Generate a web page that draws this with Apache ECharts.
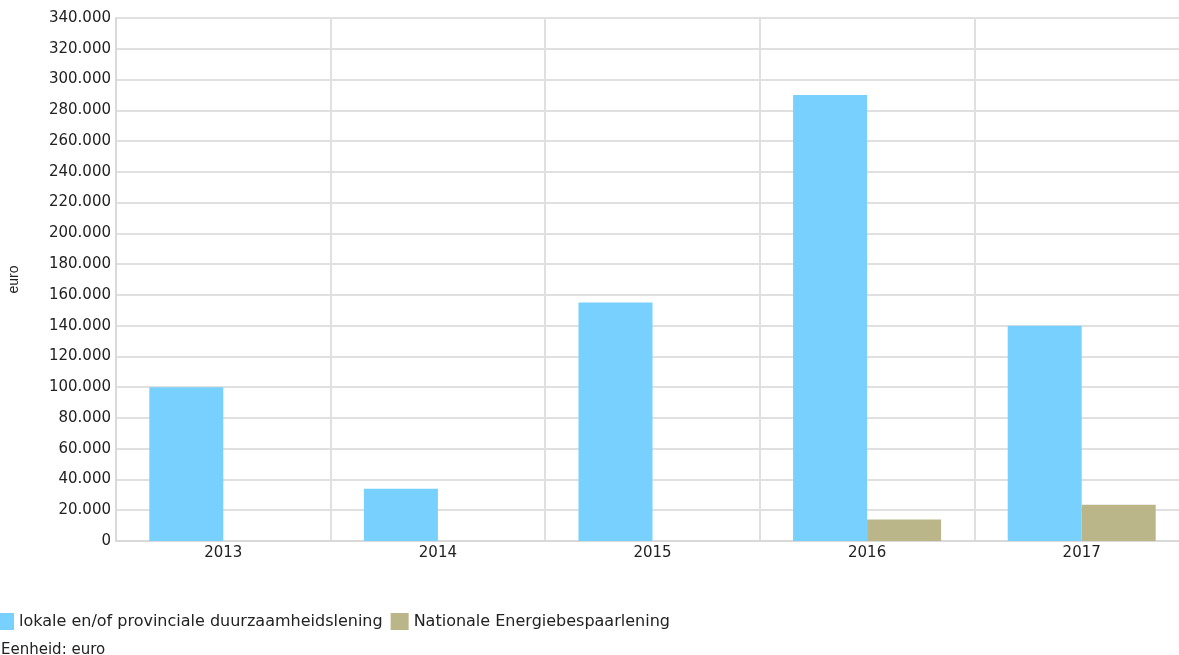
<!DOCTYPE html>
<html><head><meta charset="utf-8">
<script src="https://cdn.jsdelivr.net/npm/echarts@6/dist/echarts.min.js"></script>
<style>html,body{margin:0;padding:0;background:#fff}#c{width:1179px;height:655px}</style>
</head><body><div id="c"></div>
<script>
var categories = ['2013','2014','2015','2016','2017'];
var lokale = [100000, 34000, 155000, 290000, 140000];
var nationale = [null, null, null, 14000, 23500];
var seriesNames = ['lokale en/of provinciale duurzaamheidslening', 'Nationale Energiebespaarlening'];

function fmt(v){ return v === 0 ? '0' : String(v).replace(/\B(?=(\d{3})+(?!\d))/g, '.'); }

var FF = 'DejaVu Sans, Verdana, sans-serif';
var chart = echarts.init(document.getElementById('c'));
chart.setOption({
  animation: false,
  textStyle: { fontFamily: FF },
  grid: { left: 116, width: 1073, top: 18, bottom: 114, containLabel: false, outerBoundsMode: 'none' },
  title: {
    text: 'Eenheid: euro', left: -4, top: 638,
    textStyle: { fontSize: 15, fontWeight: 'normal', color: '#222', fontFamily: FF }
  },
  legend: {
    left: -9, top: 608, itemWidth: 18, itemHeight: 17, itemGap: 8,
    icon: 'rect',
    textStyle: { fontSize: 16, color: '#222', fontFamily: FF },
    data: seriesNames
  },
  xAxis: {
    type: 'category', data: categories,
    axisLine: { lineStyle: { color: '#d9d9d9', width: 2 } },
    axisTick: { show: false },
    axisLabel: { color: '#222', fontSize: 15, margin: 5, fontFamily: FF },
    splitLine: { show: true, lineStyle: { color: '#e0e0e0', width: 2 } }
  },
  yAxis: {
    type: 'value', min: 0, max: 340000, interval: 20000,
    name: 'euro', nameLocation: 'middle', nameGap: 95, nameRotate: 90,
    nameTextStyle: { color: '#222', fontSize: 14, fontFamily: 'Liberation Sans, Arial, sans-serif' },
    axisLine: { show: true, lineStyle: { color: '#d9d9d9', width: 2 } },
    axisTick: { show: false },
    axisLabel: { color: '#222', fontSize: 15, margin: 5, formatter: fmt, fontFamily: FF },
    splitLine: { show: true, lineStyle: { color: '#e0e0e0', width: 2 } }
  },
  series: [
    { name: seriesNames[0], type: 'bar', data: lokale, barWidth: 74, barGap: '0%', itemStyle: { color: '#78D0FF' } },
    { name: seriesNames[1], type: 'bar', data: nationale, barWidth: 74, barGap: '0%', itemStyle: { color: '#BBB58A' } }
  ]
});
</script></body></html>
